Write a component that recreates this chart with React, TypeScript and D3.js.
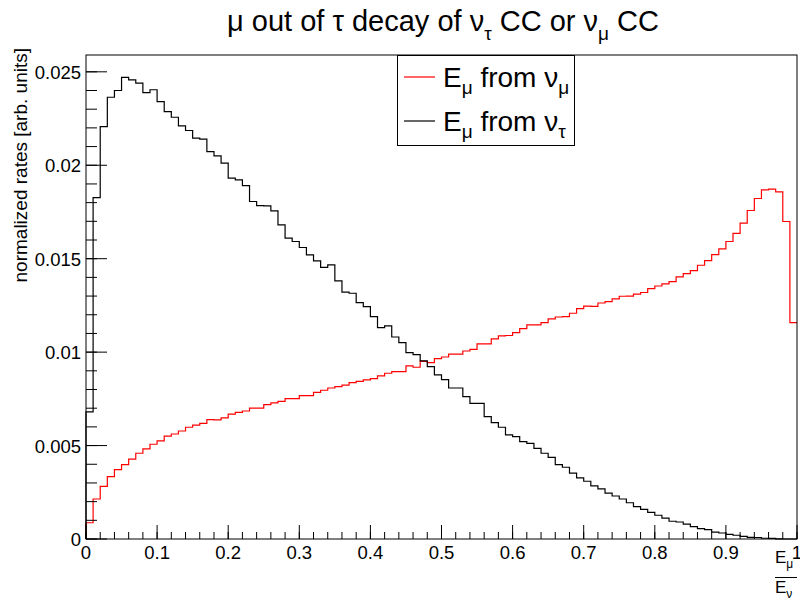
import React from "react";
import * as d3 from "d3";

const numuRates = [
  0.00087, 0.00214, 0.00282, 0.00334, 0.00371, 0.00398, 0.00427, 0.00459, 0.00482, 0.00507,
  0.00525, 0.00551, 0.00562, 0.00578, 0.00598, 0.00609, 0.00619, 0.00639, 0.00637, 0.00648,
  0.00668, 0.00678, 0.00685, 0.007, 0.007, 0.00719, 0.00728, 0.00737, 0.00751, 0.00751,
  0.00767, 0.00767, 0.00785, 0.00796, 0.00808, 0.00815, 0.00823, 0.00837, 0.00844, 0.00851,
  0.00858, 0.00873, 0.00887, 0.00896, 0.00896, 0.00926, 0.00919, 0.00951, 0.00944, 0.00965,
  0.00974, 0.00989, 0.00989, 0.01006, 0.01015, 0.01044, 0.01044, 0.01071, 0.01087, 0.01089,
  0.01104, 0.01126, 0.01146, 0.01146, 0.01158, 0.01178, 0.01188, 0.0119, 0.01208, 0.01233,
  0.01246, 0.01245, 0.01263, 0.0127, 0.01285, 0.01299, 0.013, 0.0131, 0.01319, 0.0134,
  0.01354, 0.01365, 0.01377, 0.01403, 0.0142, 0.01436, 0.01465, 0.0149, 0.01522, 0.01552,
  0.01592, 0.01636, 0.0169, 0.01758, 0.01822, 0.01868, 0.01872, 0.01858, 0.01699, 0.01158,
];

const nutauRates = [
  0.0068, 0.01827, 0.02207, 0.02364, 0.024, 0.0247, 0.02457, 0.02439, 0.02389, 0.02404,
  0.02341, 0.02287, 0.02257, 0.02211, 0.02186, 0.02145, 0.0214, 0.02073, 0.0205, 0.02011,
  0.01931, 0.01922, 0.01891, 0.01806, 0.01784, 0.01783, 0.01756, 0.01681, 0.0161, 0.01592,
  0.0156, 0.0152, 0.01488, 0.01454, 0.01467, 0.01381, 0.01321, 0.01315, 0.01265, 0.01244,
  0.0119, 0.01131, 0.0114, 0.01081, 0.01051, 0.00997, 0.00987, 0.00953, 0.00922, 0.00878,
  0.00853, 0.00808, 0.00808, 0.00762, 0.00726, 0.00726, 0.00655, 0.00623, 0.00598, 0.00557,
  0.00548, 0.00521, 0.00512, 0.00485, 0.00459, 0.00437, 0.00398, 0.00384, 0.00352, 0.00327,
  0.00309, 0.00284, 0.00268, 0.00245, 0.0023, 0.00214, 0.00194, 0.00173, 0.00159, 0.00143,
  0.00127, 0.00112, 0.00095, 0.00091, 0.0008, 0.00066, 0.00055, 0.0005, 0.00037, 0.00032,
  0.00025, 0.0002, 0.00014, 0.00009, 0.00008, 0.00004, 0.00003, 0.00001, 0, 0,
];

const xTickLabels = ["0", "0.1", "0.2", "0.3", "0.4", "0.5", "0.6", "0.7", "0.8", "0.9", "1"];
const yTickLabels = ["0", "0.005", "0.01", "0.015", "0.02", "0.025"];

const X0 = 86, X1 = 797, Y0 = 539, Y1 = 55;
const font = "'Liberation Sans', Arial, Helvetica, sans-serif";

export default function App() {
  const x = d3.scaleLinear().domain([0, 1]).range([X0, X1]);
  const y = d3.scaleLinear().domain([0, 0.0259]).range([Y0, Y1]);
  const nb = numuRates.length;

  const histPath = (vals: number[]) => {
    const pts: [number, number][] = [[x(0), y(0)]];
    vals.forEach((v, i) => {
      pts.push([x(i / nb), y(v)]);
      pts.push([x((i + 1) / nb), y(v)]);
    });
    return d3.line()(pts) || "";
  };

  const xMajor = d3.range(0, 11).map((i) => i / 10);
  const xMinor = d3.range(0, 51).map((i) => i / 50);
  const yMajor = d3.range(0, 6).map((i) => i * 0.005);
  const yMinor = d3.range(0, 26).map((i) => i * 0.001);

  return (
    <svg
      width={800}
      height={599}
      style={{ position: "absolute", left: 0, top: 0, background: "#fff" }}
      fontFamily={font}
    >
      <rect x={0} y={0} width={800} height={599} fill="#fff" />
      {/* title */}
      <text x={443} y={31} fontSize={29} textAnchor="middle" fill="#000">
        μ out of τ decay of ν<tspan fontSize={19} dy={9}>τ</tspan>
        <tspan dy={-9}> CC or ν</tspan>
        <tspan fontSize={19} dy={9}>μ</tspan>
        <tspan dy={-9}> CC</tspan>
      </text>

      {/* histograms */}
      <path d={histPath(numuRates)} fill="none" stroke="#ff0000" strokeWidth={1.2} />
      <path d={histPath(nutauRates)} fill="none" stroke="#000" strokeWidth={1.2} />

      {/* frame */}
      <rect x={X0} y={Y1} width={X1 - X0} height={Y0 - Y1} fill="none" stroke="#000" strokeWidth={1} />

      {/* x ticks */}
      {xMinor.map((t, i) => (
        <line key={"xm" + i} x1={x(t)} x2={x(t)} y1={Y0} y2={Y0 - 7} stroke="#000" strokeWidth={1} />
      ))}
      {xMajor.map((t, i) => (
        <line key={"xM" + i} x1={x(t)} x2={x(t)} y1={Y0} y2={Y0 - 14} stroke="#000" strokeWidth={1} />
      ))}
      {xMajor.map((t, i) => (
        <text key={"xl" + i} x={x(t)} y={559} fontSize={18.5} textAnchor="middle" fill="#000">
          {xTickLabels[i]}
        </text>
      ))}

      {/* y ticks */}
      {yMinor.map((t, i) => (
        <line key={"ym" + i} x1={X0} x2={X0 + 11} y1={y(t)} y2={y(t)} stroke="#000" strokeWidth={1} />
      ))}
      {yMajor.map((t, i) => (
        <line key={"yM" + i} x1={X0} x2={X0 + 21} y1={y(t)} y2={y(t)} stroke="#000" strokeWidth={1} />
      ))}
      {yMajor.map((t, i) => (
        <text key={"yl" + i} x={81} y={y(t) + 7} fontSize={18.5} textAnchor="end" fill="#000">
          {yTickLabels[i]}
        </text>
      ))}

      {/* y axis title */}
      <text
        transform="translate(27,48) rotate(-90)"
        fontSize={19}
        textAnchor="end"
        fill="#000"
      >
        normalized rates [arb. units]
      </text>

      {/* x axis title as fraction */}
      <text x={775} y={563} fontSize={17} fill="#000">
        E<tspan fontSize={12} dy={5}>μ</tspan>
      </text>
      <line x1={775} x2={797} y1={577.5} y2={577.5} stroke="#000" strokeWidth={1} />
      <text x={775} y={593} fontSize={17} fill="#000">
        E<tspan fontSize={12} dy={5}>ν</tspan>
      </text>

      {/* legend */}
      <rect x={397.5} y={55.5} width={177} height={90} fill="#fff" stroke="#000" strokeWidth={1} />
      <line x1={404} x2={435} y1={77} y2={77} stroke="#ff0000" strokeWidth={1.2} />
      <text x={443} y={87} fontSize={28} fill="#000">
        E<tspan fontSize={19} dy={7}>μ</tspan>
        <tspan dy={-7}> from ν</tspan>
        <tspan fontSize={19} dy={7}>μ</tspan>
      </text>
      <line x1={404} x2={435} y1={121} y2={121} stroke="#000" strokeWidth={1.2} />
      <text x={443} y={131} fontSize={28} fill="#000">
        E<tspan fontSize={19} dy={7}>μ</tspan>
        <tspan dy={-7}> from ν</tspan>
        <tspan fontSize={19} dy={7}>τ</tspan>
      </text>
    </svg>
  );
}
